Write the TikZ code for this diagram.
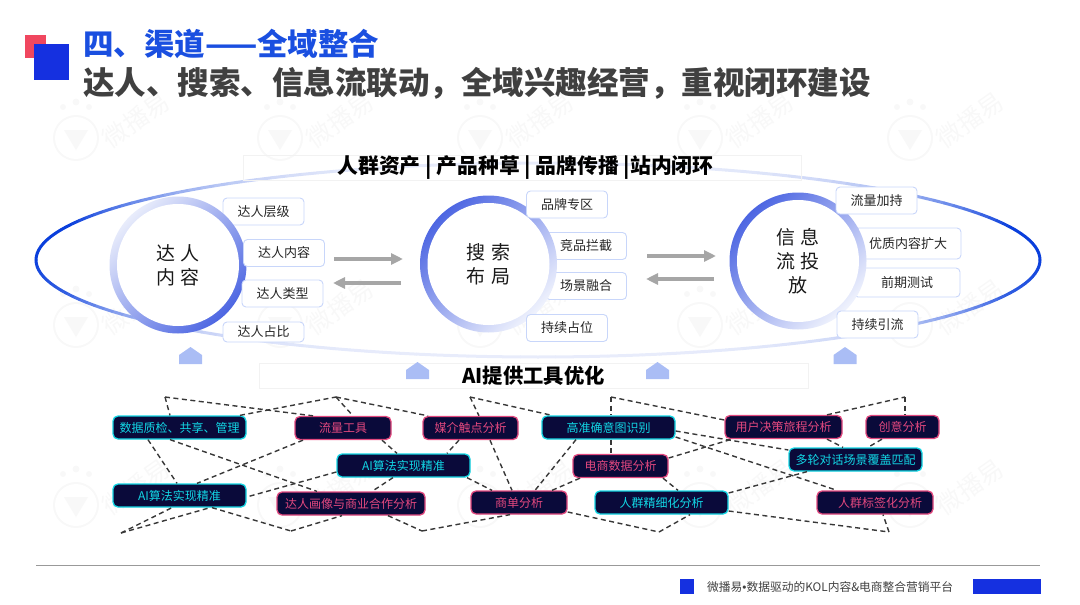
\documentclass[tikz,border=0pt]{standalone}
\usepackage{fontspec}
\setmainfont{Noto Sans CJK SC}
\usetikzlibrary{arrows.meta,positioning,backgrounds}

\definecolor{brandblue}{HTML}{1530E0}
\definecolor{brandred}{HTML}{F0475F}
\definecolor{headblue}{HTML}{1A4FE0}
\definecolor{ringblue}{HTML}{0A3FDC}
\definecolor{ringpale}{HTML}{E8ECFB}
\definecolor{hubblue}{HTML}{4D66E2}
\definecolor{hubpale}{HTML}{F0F3FD}
\definecolor{tagline}{HTML}{C8D6FA}
\definecolor{housefill}{HTML}{AABDF5}
\definecolor{chipfill}{HTML}{0A0A3A}
\definecolor{chipcyan}{HTML}{12D6E4}
\definecolor{chippink}{HTML}{E2487E}
\definecolor{markgray}{HTML}{F8F8F8}

\begin{document}
\begin{tikzpicture}[
  x=1pt,y=-1pt,
  >=Stealth,
  hubring/.style ={circle,minimum size=137pt,inner sep=0pt},
  hubcore/.style ={circle,fill=white,minimum size=122pt,inner sep=0pt,
                   align=center,font=\fontsize{19}{24}\selectfont,text=black!90},
  tagbox/.style  ={draw=tagline,fill=white,line width=0.9pt,rounded corners=4pt,
                   minimum width=81pt,minimum height=27pt,inner sep=0pt,
                   font=\fontsize{13}{15}\selectfont,text=black!85},
  cyanchip/.style={draw=chipcyan,fill=chipfill,text=chipcyan,line width=1.3pt,
                   rounded corners=5pt,minimum height=23pt,inner sep=0pt,
                   font=\fontsize{12}{14}\selectfont},
  pinkchip/.style={cyanchip,draw=chippink,text=chippink},
  headbox/.style ={draw=black!5,line width=0.7pt,minimum height=25pt,inner sep=0pt,
                   font=\bfseries\fontsize{20.8}{24}\selectfont,text=black},
  flow/.style    ={-{Stealth[length=12pt,width=11pt,inset=0pt]},draw=black!35,
                   line width=3.2pt},
  link/.style    ={draw=black!78,line width=1.4pt,dash pattern=on 5pt off 3.5pt},
]

\useasboundingbox (0,0) rectangle (1080,605);

%% ============================================================
%%  Watermark
%% ============================================================
\foreach \wy in {138,325,505}
  \foreach \wx in {76,280,480,700,910}{
    \fill[markgray] (\wx,\wy) circle (23pt);
    \fill[white] (\wx,\wy) circle (21pt);
    \fill[markgray] (\wx-12,\wy-8) -- (\wx+12,\wy-8) -- (\wx,\wy+12) -- cycle;
    \fill[markgray] (\wx-13,\wy-31) circle (3pt) (\wx,\wy-36) circle (3.5pt)
                    (\wx+13,\wy-31) circle (3pt);
    \node[rotate=35,text=markgray,font=\fontsize{25}{27}\selectfont]
         (mark\wx\wy) at (\wx+60,\wy-18) {微播易};
  }

%% ============================================================
%%  Title
%% ============================================================
\fill[brandred]  (24.5,35) rectangle (46,58);
\fill[brandblue] (33.5,44) rectangle (69,80);
\node[anchor=west,text=headblue,font=\bfseries\fontsize{30.5}{34}\selectfont]
     (title) at (79.5,44) {四、渠道——全域整合};
\node[anchor=west,text=black!75,font=\bfseries\fontsize{31.5}{34}\selectfont]
     (subtitle) at (79.5,83) {达人、搜索、信息流联动，全域兴趣经营，重视闭环建设};

%% ============================================================
%%  Outer loop
%% ============================================================
\foreach \a in {0,2,...,358}{
  \pgfmathsetmacro\ringmix{100*min(1,1.3*abs(cos(\a))^4)*(1-0.5*max(0,sin(\a)))}
  \draw[line width=3pt,line cap=round,ringblue!\ringmix!ringpale]
    ({538+502*cos(\a)},{260+97*sin(\a)}) -- ({538+502*cos(\a+2)},{260+97*sin(\a+2)});
}

%% ============================================================
%%  Top and middle headings
%% ============================================================
\node[headbox,minimum width=558pt] (assets) at (522,168)
     {\hspace*{7pt}人群资产 | 产品种草 | 品牌传播 |站内闭环};
\node[headbox,minimum width=549pt,font=\bfseries\fontsize{20.3}{24}\selectfont]
     (aitools) at (533.5,375.5) {AI提供工具优化};

\foreach \hx/\hy in {190.5/347,417.5/362,657.5/362,845/347}
  \fill[housefill] (\hx-11.5,\hy+17) -- (\hx-11.5,\hy+8) -- (\hx,\hy)
                   -- (\hx+11.5,\hy+8) -- (\hx+11.5,\hy+17) -- cycle;

%% ============================================================
%%  Talent hub
%% ============================================================
\node[tagbox] (tlevel) at (263.5,211.5) {达人层级};
\node[tagbox] (tshare) at (263.5,332) [minimum height=20pt] {达人占比};
\node[hubring,top color=ringpale,bottom color=hubblue,shading angle=45]
     (talentring) at (178,265) {};
\node[hubcore] (talent) at (talentring) {达\hspace{6pt}人\\内\hspace{6pt}容};
\node[tagbox] (tcontent) at (284,253) {达人内容};
\node[tagbox] (ttype) at (282.5,293.5) {达人类型};

%% ============================================================
%%  Search hub
%% ============================================================
\node[tagbox] (srival) at (586,246) {竞品拦截};
\node[tagbox] (sscene) at (586,286) {场景融合};
\node[hubring,top color=hubblue,bottom color=hubpale,shading angle=45]
     (searchring) at (488.5,264) {};
\node[hubcore] (search) at (searchring) {搜\hspace{6pt}索\\布\hspace{6pt}局};
\node[tagbox] (szone) at (567,204.5) {品牌专区};
\node[tagbox] (sspot) at (567,328) {持续占位};

%% ============================================================
%%  Feed hub
%% ============================================================
\node[tagbox,minimum width=106pt,minimum height=31pt] (fboost) at (908,243.5) {优质内容扩大};
\node[tagbox,minimum width=106pt,minimum height=29pt] (ftest) at (907,282.5) {前期测试};
\node[hubring,top color=hubblue,bottom color=hubpale,shading angle=45]
     (feedring) at (798,261) {};
\node[hubcore] (feed) at (feedring) {信\hspace{6pt}息\\流\hspace{6pt}投\\放};
\node[tagbox] (fpush) at (876.5,200.5) {流量加持};
\node[tagbox] (fdraw) at (877.5,324.5) {持续引流};

%% Arrows between hubs
\coordinate (ta) at (334,259);  \coordinate (tb) at (403,259);
\coordinate (tc) at (401,283);  \coordinate (td) at (333,283);
\coordinate (sa) at (647,256);  \coordinate (sb) at (716,256);
\coordinate (sc) at (714,279);  \coordinate (sd) at (646,279);
\draw[flow] (ta) -- (tb);
\draw[flow] (tc) -- (td);
\draw[flow] (sa) -- (sb);
\draw[flow] (sc) -- (sd);

%% ============================================================
%%  AI tool chips
%% ============================================================
\node[cyanchip,minimum width=133pt] (quality) at (179.5,427.5) {数据质检、共享、管理};
\node[pinkchip,minimum width=96pt]  (traffic) at (343,428) {流量工具};
\node[pinkchip,minimum width=95pt]  (media)   at (470.5,428) {媒介触点分析};
\node[cyanchip,minimum width=133pt] (intent)  at (608.5,427.5) {高准确意图识别};
\node[pinkchip,minimum width=117pt] (journey) at (783.5,427) {用户决策旅程分析};
\node[pinkchip,minimum width=73pt]  (idea)    at (902.5,427) {创意分析};
\node[cyanchip,minimum width=133pt] (algotop) at (403.5,465.5) {AI算法实现精准};
\node[pinkchip,minimum width=95pt]  (ecom)    at (620.5,466) {电商数据分析};
\node[cyanchip,minimum width=133pt] (dialog)  at (855.5,459.5) {多轮对话场景覆盖匹配};
\node[cyanchip,minimum width=133pt] (algoleft) at (179.5,495.5) {AI算法实现精准};
\node[pinkchip,minimum width=148pt] (persona) at (351,503.5) {达人画像与商业合作分析};
\node[pinkchip,minimum width=96pt]  (deal)    at (519,502.5) {商单分析};
\node[cyanchip,minimum width=133pt] (crowd)   at (661.5,502.5) {人群精细化分析};
\node[pinkchip,minimum width=116pt] (tagging) at (875,502.5) {\hspace*{10pt}人群标签化分析};

\coordinate (topa) at (165,397);
\coordinate (topb) at (336,397);
\coordinate (topc) at (470,397);
\coordinate (topd) at (611,397);
\coordinate (tope) at (905,397);
\coordinate (lowa) at (121,533);
\coordinate (lowb) at (291,531);
\coordinate (lowc) at (422,531);
\coordinate (lowd) at (659,532);
\coordinate (lowe) at (889,532);

%% Upper bends
\draw[link] (topa) -- ([xshift=-9.5pt]quality.north);
\draw[link] (topa) -- ([xshift=-30pt]traffic.north);
\draw[link] ([xshift=60.5pt]quality.north) -- (topb);
\draw[link] (topb) -- ([xshift=10pt]traffic.north);
\draw[link] (topb) -- ([xshift=-42.5pt]media.north);
\draw[link] (topc) -- ([xshift=8.5pt]media.north);
\draw[link] (topc) -- ([xshift=-56.5pt]intent.north);
\draw[link] (topd) -- ([xshift=2.5pt]intent.north);
\draw[link] (topd) -- ([yshift=7pt]journey.west);
\draw[link] ([xshift=43.5pt]journey.north) -- (tope);
\draw[link] (tope) -- ([xshift=2.5pt]idea.north);

%% Between chips
\draw[link] ([xshift=-31.5pt]quality.south) -- ([xshift=-2.5pt]algoleft.north);
\draw[link] ([xshift=-9.5pt]quality.south) -- ([xshift=-34pt]persona.north);
\draw[link] ([xshift=-40pt]traffic.south) -- ([xshift=17.5pt]algoleft.north);
\draw[link] ([xshift=39pt]traffic.south) -- ([xshift=-6.5pt]algotop.north);
\draw[link] ([yshift=-6.5pt]algotop.west) -- ([yshift=-1.5pt]algoleft.east);
\draw[link] ([xshift=-11.5pt]media.south) -- ([xshift=43.5pt]algotop.north);
\draw[link] ([xshift=-10.5pt]algotop.south) -- ([xshift=21pt]persona.north);
\draw[link] ([xshift=19.5pt]media.south) -- ([xshift=-7pt]deal.north);
\draw[link] ([xshift=63.5pt]algotop.south) -- ([xshift=-27pt]deal.north);
\draw[link] ([xshift=-32.5pt]intent.south) -- ([xshift=16pt]deal.north);
\draw[link] ([xshift=-40.5pt]ecom.south) -- ([xshift=33pt]deal.north);
\draw[link] ([xshift=2.5pt]intent.south) -- ([xshift=-9.5pt]ecom.north);
\draw[link] ([yshift=-3.5pt]intent.east) -- ([yshift=9.5pt]dialog.west);
\draw[link] ([yshift=-9.5pt]intent.east) -- ([xshift=-38pt]tagging.north);
\draw[link] ([yshift=8pt]ecom.east) -- ([xshift=-51.5pt]journey.south);
\draw[link] ([xshift=42.5pt]ecom.south) -- ([xshift=16.5pt]crowd.north);
\draw[link] ([yshift=9.5pt]crowd.east) -- ([xshift=-48.5pt]dialog.south);
\draw[link] ([xshift=43.5pt]journey.south) -- ([xshift=-12.5pt]dialog.north);
\draw[link] ([xshift=-20.5pt]idea.south) -- ([xshift=12.5pt]dialog.north);

%% Lower bends
\draw[link] (lowa) -- ([xshift=-7.5pt]algoleft.south);
\draw[link] (lowa) -- ([xshift=30.5pt]algoleft.south);
\draw[link] ([xshift=32.5pt]algoleft.south) -- (lowb);
\draw[link] (lowb) -- ([xshift=-9pt]persona.south);
\draw[link] ([xshift=37pt]persona.south) -- (lowc);
\draw[link] (lowc) -- ([xshift=-9pt]deal.south);
\draw[link] ([yshift=-9.5pt]deal.east) -- (lowd);
\draw[link] (lowd) -- ([xshift=28.5pt]crowd.south);
\draw[link] ([yshift=-8.5pt]crowd.east) -- (lowe);
\draw[link] (lowe) -- ([xshift=8pt]tagging.south);

%% ============================================================
%%  Footer
%% ============================================================
\coordinate (rulea) at (36,565);
\coordinate (ruleb) at (1040,565);
\draw[draw=black!40,line width=1pt] (rulea) -- (ruleb);
\fill[brandblue] (680,579) rectangle (694,594);
\node[anchor=west,inner sep=0pt,text=black!75,font=\fontsize{11.75}{14}\selectfont]
     (slogan) at (707,587) {微播易{\fontspec{Liberation Sans}•}数据驱动的KOL内容\&电商整合营销平台};
\fill[brandblue] (973,579) rectangle (1041,594);

\end{tikzpicture}
\end{document}
